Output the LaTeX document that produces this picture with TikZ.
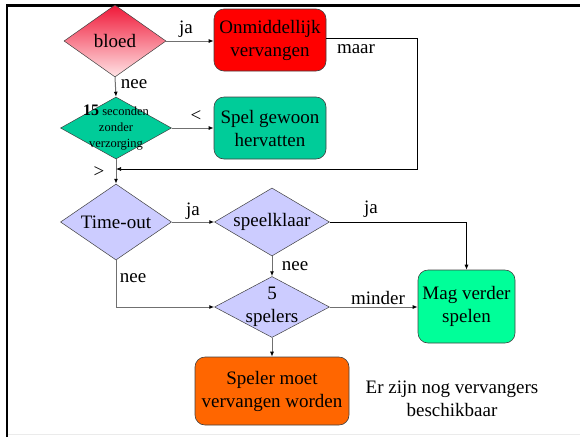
\documentclass[tikz,border=0pt]{standalone}
\usepackage{fontspec}
\setmainfont{Liberation Serif}
\newfontfamily\chartfont{Liberation Serif}
\usetikzlibrary{shapes.geometric,arrows.meta}
\definecolor{teal1}{HTML}{00CC99}
\definecolor{mint}{HTML}{00FF99}
\definecolor{lav}{HTML}{CCCCFF}
\definecolor{orng}{HTML}{FF6600}
\definecolor{edge}{HTML}{404040}
\definecolor{wire}{HTML}{707070}
\definecolor{bloodtop}{HTML}{F01838}
\definecolor{bloodbot}{HTML}{FFE4E6}
\begin{document}
\begin{tikzpicture}[x=1pt,y=-1pt,
  every node/.style={font=\chartfont\fontsize{19}{23}\selectfont},
  dia/.style={diamond,draw=edge,line width=0.5pt,inner sep=0pt},
  box/.style={rectangle,rounded corners=10pt,draw=edge,line width=0.6pt,align=center,inner sep=0pt},
  txt/.style={align=center,inner sep=0pt},
  lbl/.style={inner sep=0pt},
  conn/.style={draw=wire,line width=1pt,-{Latex[length=5pt,width=4pt,color=black]}},
  thin/.style={draw=black,line width=0.7pt}]
\useasboundingbox (0,0) rectangle (580,437);
% page frame
\draw[line width=2.5pt] (7,437) -- (7,5.5) -- (580,5.5);
\draw[black!8,line width=1pt] (8,434) -- (580,434);

% decisions
\node[dia,top color=bloodtop,bottom color=bloodbot,minimum width=102pt,minimum height=72pt] (bloed) at (115,41) {};
\node[txt] at (bloed.center) {bloed};
\node[dia,fill=teal1,minimum width=111pt,minimum height=62pt] (sec) at (116,128) {};
\node[txt,font=\chartfont\fontsize{12.5}{16}\selectfont] at (sec.center) {{\fontsize{16}{16}\selectfont\bfseries 15} seconden\\zonder\\verzorging};
\node[dia,fill=lav,minimum width=111pt,minimum height=76pt] (tim) at (116,222) {};
\node[txt] at (tim.center) {Time-out};
\node[dia,fill=lav,minimum width=115pt,minimum height=68pt] (spk) at (272,222) {};
\node[txt] at (spk.center) {speelklaar};
\node[dia,fill=lav,minimum width=115pt,minimum height=61pt] (five) at (272,307) {};
\node[txt] at (five.center) {5\\spelers};

% outcomes
\node[box,fill=red,minimum width=112pt,minimum height=62pt] (onm) at (270,40) {Onmiddellijk\\vervangen};
\node[box,fill=teal1,minimum width=112pt,minimum height=62pt] (spel) at (270,128) {Spel gewoon\\hervatten};
\node[box,fill=mint,minimum width=97pt,minimum height=73pt] (mag) at (466.5,306.5) {Mag verder\\spelen};
\node[box,fill=orng,minimum width=154pt,minimum height=68pt] (spm) at (272,391) {Speler moet\\vervangen worden};
\node[txt] (note) at (452,399) {Er zijn nog vervangers\\beschikbaar};

% connectors
\coordinate (join) at (116,169);
\draw[conn] (bloed.east) -- (bloed.east -| onm.west);
\draw[conn] (bloed.south) -- (sec.north);
\draw[conn] (sec.east) -- (sec.east -| spel.west);
\draw[conn] (sec.south) -- (tim.north);
\draw[thin,-{Latex[length=5pt,width=4pt]}] ([yshift=2pt]onm.east) -- ++(91,0) |- (join);
\draw[conn] (tim.east) -- (spk.west);
\draw[thin,-{Latex[length=5pt,width=4pt]}] (spk.east) -| (mag.north);
\draw[conn] (spk.south) -- (five.north);
\draw[conn] (tim.south) |- (five.west);
\draw[conn] (five.east) -- (five.east -| mag.west);
\draw[conn] (five.south) -- (spm.north);

% branch labels
\node[lbl] (l1) at (186,29) {ja};
\node[lbl] (l2) at (134,84) {nee};
\node[lbl] (l3) at (196,116) {<};
\node[lbl] (l4) at (99,172) {>};
\node[lbl] (l5) at (356,49) {maar};
\node[lbl] (l6) at (193,211) {ja};
\node[lbl] (l7) at (371,209) {ja};
\node[lbl] (l8) at (295,266) {nee};
\node[lbl] (l9) at (133,278) {nee};
\node[lbl] (l10) at (378,298) {minder};
\end{tikzpicture}
\end{document}
